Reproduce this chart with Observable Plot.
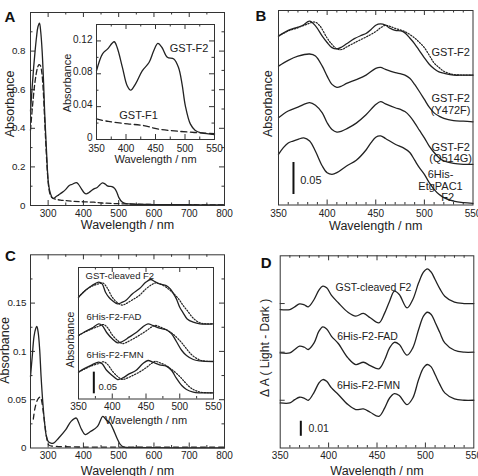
<!DOCTYPE html>
<html><head><meta charset="utf-8">
<script src="https://cdn.jsdelivr.net/npm/d3@7"></script>
<script src="https://cdn.jsdelivr.net/npm/@observablehq/plot@0.6"></script>
<style>
html,body{margin:0;padding:0;background:#fff;}
#fig{position:relative;width:478px;height:476px;overflow:hidden;background:#fff;}
#fig svg{position:absolute;}
</style></head><body><div id="fig"></div>
<script>
// ---------- Panel A ----------
const aF2Wl = [250,255,259,263,267,271,275.5,279,283,287,290,293,296,300,304,308,312,316,322,330,340,350,360,368.5,380,385,394,402,408,416,427.5,439,447,454,461,470,481,489,495,500.6,509,517.5,528.6,550,600,650,700,750,800];
const aF2Abs = [0.49,0.62,0.717,0.80,0.872,0.925,0.945,0.90,0.80,0.64,0.49,0.37,0.26,0.13,0.08,0.055,0.04,0.037,0.045,0.055,0.068,0.0836,0.104,0.110,0.119,0.112,0.0876,0.0655,0.060,0.0675,0.0836,0.0937,0.108,0.117,0.112,0.100,0.098,0.0876,0.0675,0.041,0.019,0.011,0.008,0.006,0.005,0.004,0.004,0.003,0.003];
const aF1Wl = [250,254,258,262,266,270,274,278,282,286,290,294,298,302,306,310,316,325,335,350,370,403,430,453,489,550,600,700,800];
const aF1Abs = [0.39,0.48,0.56,0.63,0.68,0.715,0.73,0.725,0.69,0.60,0.45,0.30,0.17,0.09,0.055,0.042,0.035,0.031,0.028,0.025,0.022,0.019,0.017,0.013,0.010,0.007,0.005,0.004,0.003];
const aYTicks = [0,0.2,0.4,0.6,0.8];
const aInsetYTicks = [0,0.04,0.08,0.12];
const aInsetLabels = [{t:"GST-F2", x:506.8, y:0.111}, {t:"GST-F1", x:421.2, y:0.0296}];

// ---------- Panel B ----------
const bF2Wl = [350,360,370,375,382,388,395,400,405,410,415,420,428,435,440,445,450,455,460,465,470,476,480,485,490,495,500,505,510,515,520,530,540,550];
const bF2 = [0.264,0.273,0.278,0.281,0.2875,0.280,0.264,0.254,0.246,0.244,0.247,0.252,0.260,0.265,0.268,0.274,0.281,0.283,0.281,0.276,0.273,0.272,0.269,0.261,0.252,0.241,0.230,0.220,0.213,0.208,0.206,0.203,0.203,0.203];
const bF2DotWl = [350,360,370,380,387,392,400,405,410,415,420,430,440,450,455,460,465,470,480,490,495,500,505,510,515,520,525,530,540,550];
const bF2Dot = [0.264,0.272,0.277,0.283,0.286,0.281,0.261,0.251,0.244,0.243,0.247,0.255,0.2625,0.271,0.277,0.281,0.279,0.276,0.271,0.261,0.254,0.246,0.234,0.222,0.215,0.209,0.206,0.204,0.203,0.203];
const bMutWl = [350,360,370,382,388,395,400,405,410,415,420,430,440,450,455,460,470,476,480,485,490,495,500,505,510,515,520,530,540,550];
const bY472F = [0.217,0.226,0.2325,0.236,0.233,0.217,0.2015,0.1885,0.184,0.186,0.190,0.196,0.203,0.2135,0.215,0.212,0.207,0.205,0.203,0.198,0.1885,0.177,0.165,0.153,0.144,0.139,0.1355,0.132,0.131,0.130];
const bQ514G = [0.1365,0.147,0.153,0.160,0.156,0.144,0.1285,0.118,0.114,0.1155,0.119,0.128,0.141,0.157,0.1615,0.158,0.152,0.149,0.146,0.139,0.1285,0.1165,0.105,0.092,0.082,0.074,0.069,0.065,0.0635,0.0635];
const bEtgWl = [350,355,360,365,370,376,382,388,395,400,405,410,420,430,440,445,450,455,460,470,478,485,490,495,500,505,510,515,520,530,540,550];
const bEtg = [0.079,0.0896,0.097,0.100,0.1026,0.105,0.100,0.084,0.061,0.0505,0.048,0.0505,0.061,0.070,0.086,0.097,0.106,0.108,0.104,0.095,0.0896,0.082,0.070,0.058,0.048,0.035,0.0245,0.0167,0.0115,0.006,0.0036,0.0026];
const bLabels = [{t:"GST-F2",x:527,y:0.238},{t:"GST-F2",x:527,y:0.166},{t:"(Y472F)",x:527,y:0.148},{t:"GST-F2",x:527,y:0.090},{t:"(Q514G)",x:527,y:0.073},{t:"6His-",x:516.6,y:0.048},{t:"EtgPAC1",x:516.6,y:0.029},{t:"F2",x:524,y:0.012}];
const bBar = [{x:365.4, y1:0.0164, y2:0.0664, t:"0.05", tx:372.3, ty:0.038}];

// ---------- Panel C ----------
const cWl = [250,255,260,265,268,272,276,280,285,290,295,300,308,315,330,350,365,380,385,395,405,420,440,455,465,475,485,495,505,515,550,600,700,800];
const cAbs = [0.074,0.095,0.1156,0.124,0.126,0.119,0.102,0.074,0.0466,0.026,0.012,0.0069,0.005,0.005,0.0104,0.019,0.0276,0.031,0.0276,0.019,0.0138,0.017,0.0224,0.0328,0.029,0.026,0.019,0.0104,0.0035,0.001,0.0005,0.0003,0.0002,0.0002];
const cDashWl = [258,262,266,270,274,278,282,286,290,294,298,302,310,330,400,500,600,700,800];
const cDash = [0.030,0.040,0.046,0.050,0.052,0.053,0.048,0.038,0.026,0.015,0.007,0.003,0.002,0.0015,0.001,0.001,0.001,0.001,0.001];
const cYTicks = [0,0.05,0.1,0.15];
const ciWl1 = [350,360,370,380,385,390,395,400,408,415,420,430,440,450,457,463,470,480,486,490,495,500,505,511,520,530,550];
const ci1 = [0.235,0.2506,0.262,0.270,0.266,0.2467,0.235,0.2275,0.2198,0.2236,0.2275,0.243,0.2544,0.270,0.276,0.2713,0.266,0.262,0.2544,0.245,0.2313,0.212,0.199,0.185,0.1775,0.1736,0.1736];
const ciDotWl1 = [350,360,370,380,386,392,400,408,415,420,430,440,450,458,464,470,480,490,500,505,511,520,530,540,550];
const ciDot1 = [0.235,0.2506,0.2606,0.266,0.268,0.258,0.235,0.222,0.217,0.2198,0.229,0.239,0.2544,0.2636,0.268,0.266,0.258,0.245,0.2275,0.216,0.2044,0.1867,0.1759,0.1736,0.1736];
const ciWl23 = [350,360,370,380,385,392,400,408,415,425,435,445,453,460,470,480,488,495,503,510,520,530,550];
const ci2 = [0.1467,0.156,0.1636,0.1736,0.170,0.153,0.139,0.1297,0.1328,0.1428,0.153,0.166,0.1736,0.170,0.1636,0.160,0.1505,0.1328,0.112,0.1005,0.0912,0.0881,0.0866];
const ci3 = [0.062,0.0712,0.079,0.085,0.0812,0.0658,0.0543,0.045,0.048,0.058,0.0658,0.0812,0.0889,0.085,0.079,0.0758,0.0658,0.048,0.0312,0.022,0.0158,0.0142,0.0142];
const ciDotWl23 = [350,360,370,380,387,393,400,408,415,420,430,440,450,458,464,470,480,490,500,507,513,520,530,540,550];
const ciDot2 = [0.1467,0.155,0.162,0.168,0.172,0.165,0.148,0.135,0.128,0.130,0.138,0.147,0.157,0.166,0.170,0.167,0.160,0.150,0.135,0.122,0.110,0.099,0.090,0.087,0.0866];
const ciDot3 = [0.062,0.070,0.077,0.082,0.086,0.080,0.065,0.052,0.045,0.047,0.054,0.062,0.072,0.082,0.087,0.084,0.077,0.066,0.052,0.040,0.030,0.022,0.016,0.0145,0.0142];
const ciLabels = [{t:"GST-cleaved F2",x:360.4,y:0.285},{t:"6His-F2-FAD",x:361.9,y:0.1905},{t:"6His-F2-FMN",x:361.9,y:0.1028}];
const ciBar = [{x:372.7, y1:0.012, y2:0.062, t:"0.05", tx:379.6, ty:0.0289}];

// ---------- Panel D ----------
const dWl = [350,360,365,370,375,379,385,390,394,398,403,410,420,428,436,443,452,458,463,468,473,481,487,493,498,502,506,510,515,520,530,540,550];
const d1 = [0.0922,0.0922,0.094,0.096,0.0953,0.094,0.0989,0.1051,0.1078,0.1067,0.1016,0.0967,0.0904,0.0878,0.0896,0.0867,0.0833,0.090,0.0978,0.1044,0.1022,0.0933,0.0989,0.110,0.1171,0.1193,0.1171,0.1122,0.106,0.1011,0.0971,0.0962,0.0962];
const d2 = [0.0633,0.0633,0.0656,0.0678,0.0671,0.0656,0.070,0.0778,0.0807,0.0793,0.0744,0.0696,0.060,0.0556,0.0571,0.0549,0.0527,0.0589,0.0667,0.0704,0.0689,0.0618,0.0667,0.0789,0.0878,0.0904,0.0889,0.0838,0.0767,0.070,0.0651,0.0638,0.0638];
const d3 = [0.030,0.030,0.0322,0.0338,0.0331,0.0318,0.0371,0.0433,0.0456,0.0444,0.040,0.0356,0.0289,0.0256,0.026,0.0238,0.0211,0.0267,0.0333,0.0362,0.0349,0.0289,0.0333,0.0456,0.0533,0.0556,0.054,0.0489,0.0422,0.0367,0.0327,0.0318,0.0318];
const dZeroLevels = [0.0962,0.0638,0.0318];
const dLabels = [{t:"GST-cleaved F2",x:446.4,y:0.1067},{t:"6His-F2-FAD",x:440.2,y:0.0745},{t:"6His-F2-FMN",x:441.2,y:0.0416}];
const dBar = [{x:371.3, y1:0.0078, y2:0.0178, t:"0.01", tx:379.2, ty:0.0127}];

const nmTicks = [350,400,450,500,550];
const uvTicks = [300,400,500,600,700,800];

// ---------- helpers ----------
const FONT = "'Liberation Sans', Arial, Helvetica, sans-serif";
const INK = "#222";
const fig = document.getElementById("fig");
const series = (wl, v) => wl.map((w, i) => ({w, v: v[i]}));
const seq = (a, b, s) => Array.from({length: Math.round((b - a) / s) + 1}, (_, i) => +(a + i * s).toFixed(4));
const fmt = d => String(+(+d).toFixed(4));

function ticks(fw, fh, {xMaj = [], xMin = [], yMaj = [], yMin = [], xSides = ["b","t"], ySides = ["l","r"]}) {
  const m = [], o = {stroke: "#333", strokeWidth: 1};
  const L = 5, S = 2.5;
  for (const s of xSides) {
    const k = s === "b" ? "insetTop" : "insetBottom";
    if (xMaj.length) m.push(Plot.ruleX(xMaj, {x: d => d, [k]: fh - L, ...o}));
    if (xMin.length) m.push(Plot.ruleX(xMin, {x: d => d, [k]: fh - S, ...o}));
  }
  for (const s of ySides) {
    const k = s === "l" ? "insetRight" : "insetLeft";
    if (yMaj.length) m.push(Plot.ruleY(yMaj, {y: d => d, [k]: fw - L, ...o}));
    if (yMin.length) m.push(Plot.ruleY(yMin, {y: d => d, [k]: fw - S, ...o}));
  }
  return m;
}

function panel({left, top, width, height, ml, mr, mt, mb, xd, yd, marks}) {
  const svg = Plot.plot({
    width, height, marginLeft: ml, marginRight: mr, marginTop: mt, marginBottom: mb,
    x: {domain: xd, axis: null}, y: {domain: yd, axis: null},
    style: {fontFamily: FONT, fontSize: "10px", color: INK, background: "transparent"},
    marks
  });
  svg.style.position = "absolute";
  svg.style.left = left + "px";
  svg.style.top = top + "px";
  svg.style.maxWidth = "none";
  fig.append(svg);
}
const lineO = {x: "w", y: "v", curve: "catmull-rom", stroke: INK, strokeWidth: 1.3};
const xLab = (ticksArr, pad, fs = 10) => Plot.axisX(ticksArr, {tickSize: 0, tickPadding: pad, label: null, fontSize: fs, fill: INK, tickFormat: fmt});
const yLab = (ticksArr, pad, fs = 10, dy = 0) => Plot.axisY(ticksArr, {tickSize: 0, tickPadding: pad, label: null, fontSize: fs, fill: INK, tickFormat: fmt, dy});
const title = (t, dy, fs) => Plot.text([t], {frameAnchor: "bottom", dy, lineAnchor: "middle", fontSize: fs, fill: INK});
const yTitle = (t, dx, dy, fs) => Plot.text([t], {frameAnchor: "left", dx, dy, rotate: -90, textAnchor: "middle", lineAnchor: "middle", fontSize: fs, fill: INK});
const letter = (t, dx, dy) => Plot.text([t], {frameAnchor: "top-left", dx, dy, textAnchor: "middle", lineAnchor: "middle", fontSize: 15, fontWeight: "bold", fill: "#111"});
const bar = (b, fs) => [
  Plot.ruleX(b, {x: "x", y1: "y1", y2: "y2", stroke: "#111", strokeWidth: 2}),
  Plot.text(b, {x: "tx", y: "ty", text: "t", textAnchor: "start", lineAnchor: "middle", fontSize: fs, fill: INK})
];

// ---------- Panel A main ----------
{
  const ml = 30, mr = 15, mt = 12, mb = 31, W = 239, H = 236;
  panel({left: 0, top: 0, width: W, height: H, ml, mr, mt, mb, xd: [250, 800], yd: [0, 1.0], marks: [
    ...ticks(W - ml - mr, H - mt - mb, {xMaj: seq(300, 700, 100), xMin: seq(350, 750, 100), yMaj: seq(0.2, 0.8, 0.2), yMin: seq(0.1, 0.9, 0.2)}),
    Plot.line(series(aF1Wl, aF1Abs), {...lineO, strokeDasharray: "5,3"}),
    Plot.line(series(aF2Wl, aF2Abs), lineO),
    Plot.frame({stroke: "#333"}),
    xLab(uvTicks, 4.5), yLab(aYTicks, 5, 9.8),
    title("Wavelength / nm", 19.5, 12.5),
    yTitle("Absorbance", -21, -5, 12.5),
    letter("A", -20.5, 4.7)
  ]});
}
// ---------- Panel A inset ----------
{
  const left = 55, top = 16, W = 170, H = 150;
  const ml = 96 - left, mr = W - (214 - left), mt = 24 - top, mb = H - (139 - top);
  const inF2 = series(aF2Wl, aF2Abs).filter(d => d.w >= 350 && d.w <= 550);
  const inF1 = series(aF1Wl, aF1Abs).filter(d => d.w >= 350 && d.w <= 550);
  panel({left, top, width: W, height: H, ml, mr, mt, mb, xd: [350, 550], yd: [0, 0.14], marks: [
    Plot.frame({fill: "white", stroke: "none"}),
    ...ticks(W - ml - mr, H - mt - mb, {xMaj: [400, 450, 500], xMin: [375, 425, 475, 525], yMaj: [0.04, 0.08, 0.12], yMin: [0.02, 0.06, 0.10]}),
    Plot.line(inF1, {...lineO, strokeDasharray: "6,3.5"}),
    Plot.line(inF2, lineO),
    Plot.frame({stroke: "#333"}),
    xLab(nmTicks, 5, 10), yLab(aInsetYTicks, 4, 10, -1.5),
    title("Wavelength / nm", 20, 11),
    yTitle("Absorbance", -29, 1, 11),
    Plot.text(aInsetLabels, {x: "x", y: "y", text: "t", textAnchor: "middle", lineAnchor: "middle", fontSize: 11, fill: INK})
  ]});
}
// ---------- Panel B ----------
{
  const ml = 39, mr = 5.5, mt = 10, mb = 31.5, W = 239, H = 236;
  panel({left: 239, top: 0, width: W, height: H, ml, mr, mt, mb, xd: [350, 550], yd: [0, 0.304], marks: [
    ...ticks(W - ml - mr, H - mt - mb, {xMaj: [400, 450, 500], xMin: seq(360, 540, 10).filter(v => v % 50 !== 0), ySides: []}),
    Plot.line(series(bF2DotWl, bF2Dot), {...lineO, strokeDasharray: "1.3,1.6", strokeWidth: 1.2}),
    Plot.line(series(bF2Wl, bF2), lineO),
    Plot.line(series(bMutWl, bY472F), lineO),
    Plot.line(series(bMutWl, bQ514G), lineO),
    Plot.line(series(bEtgWl, bEtg), lineO),
    Plot.frame({stroke: "#333"}),
    xLab(nmTicks, 5),
    title("Wavelength / nm", 20.5, 12.5),
    yTitle("Absorbance", -11, -4, 12.5),
    letter("B", -17.5, 6),
    Plot.text(bLabels, {x: "x", y: "y", text: "t", textAnchor: "middle", lineAnchor: "middle", fontSize: 11, fill: INK}),
    ...bar(bBar, 11)
  ]});
}
// ---------- Panel C main ----------
{
  const ml = 30, mr = 15, mt = 18.3, mb = 28.5, W = 239, H = 240;
  panel({left: 0, top: 236, width: W, height: H, ml, mr, mt, mb, xd: [250, 800], yd: [0, 0.2], marks: [
    ...ticks(W - ml - mr, H - mt - mb, {xMaj: seq(300, 700, 100), xMin: seq(350, 750, 100), yMaj: [0.05, 0.1, 0.15], yMin: [0.025, 0.075, 0.125, 0.175]}),
    Plot.line(series(cDashWl, cDash), {...lineO, strokeDasharray: "5,4"}),
    Plot.line(series(cWl, cAbs), lineO),
    Plot.frame({stroke: "#333"}),
    xLab(uvTicks, 4), yLab(cYTicks, 4, 9.8),
    title("Wavelength / nm", 23, 12.5),
    yTitle("Absorbance", -26, -1, 12.5),
    letter("C", -20, 1.7)
  ]});
}
// ---------- Panel C inset ----------
{
  const left = 60, top = 258, W = 165, H = 170;
  const ml = 78 - left, mr = W - (213 - left), mt = 267 - top, mb = H - (398.5 - top);
  panel({left, top, width: W, height: H, ml, mr, mt, mb, xd: [350, 550], yd: [0, 0.3037], marks: [
    Plot.frame({fill: "white", stroke: "none"}),
    ...ticks(W - ml - mr, H - mt - mb, {xMaj: [400, 450, 500], xMin: [375, 425, 475, 525], ySides: []}),
    Plot.line(series(ciDotWl1, ciDot1), {...lineO, strokeDasharray: "1.3,1.6", strokeWidth: 1.2}),
    Plot.line(series(ciDotWl23, ciDot2), {...lineO, strokeDasharray: "1.3,1.6", strokeWidth: 1.2}),
    Plot.line(series(ciDotWl23, ciDot3), {...lineO, strokeDasharray: "1.3,1.6", strokeWidth: 1.2}),
    Plot.line(series(ciWl1, ci1), lineO),
    Plot.line(series(ciWl23, ci2), lineO),
    Plot.line(series(ciWl23, ci3), lineO),
    Plot.frame({stroke: "#333"}),
    xLab(nmTicks, 3.5, 10),
    title("Wavelength / nm", 21, 11),
    yTitle("Absorbance", -8, 6.5, 10.5),
    Plot.text(ciLabels, {x: "x", y: "y", text: "t", textAnchor: "start", lineAnchor: "middle", fontSize: 9.5, fill: INK}),
    ...bar(ciBar, 9.5)
  ]});
}
// ---------- Panel D ----------
{
  const ml = 40.7, mr = 4.7, mt = 19.3, mb = 28.5, W = 239, H = 240;
  panel({left: 239, top: 236, width: W, height: H, ml, mr, mt, mb, xd: [350, 550], yd: [0, 0.128], marks: [
    ...ticks(W - ml - mr, H - mt - mb, {xMaj: [400, 450, 500], xMin: seq(360, 540, 10).filter(v => v % 50 !== 0), yMaj: dZeroLevels, ySides: ["l"]}),
    Plot.line(series(dWl, d1), lineO),
    Plot.line(series(dWl, d2), lineO),
    Plot.line(series(dWl, d3), lineO),
    Plot.frame({stroke: "#333"}),
    xLab(nmTicks, 4),
    title("Wavelength / nm", 23, 12.5),
    yTitle("Δ A ( Light - Dark )", -15, -4, 12),
    letter("D", -14, 7.4),
    Plot.text(dLabels, {x: "x", y: "y", text: "t", textAnchor: "middle", lineAnchor: "middle", fontSize: 10.5, fill: INK}),
    ...bar(dBar, 10.5)
  ]});
}
</script></body></html>
